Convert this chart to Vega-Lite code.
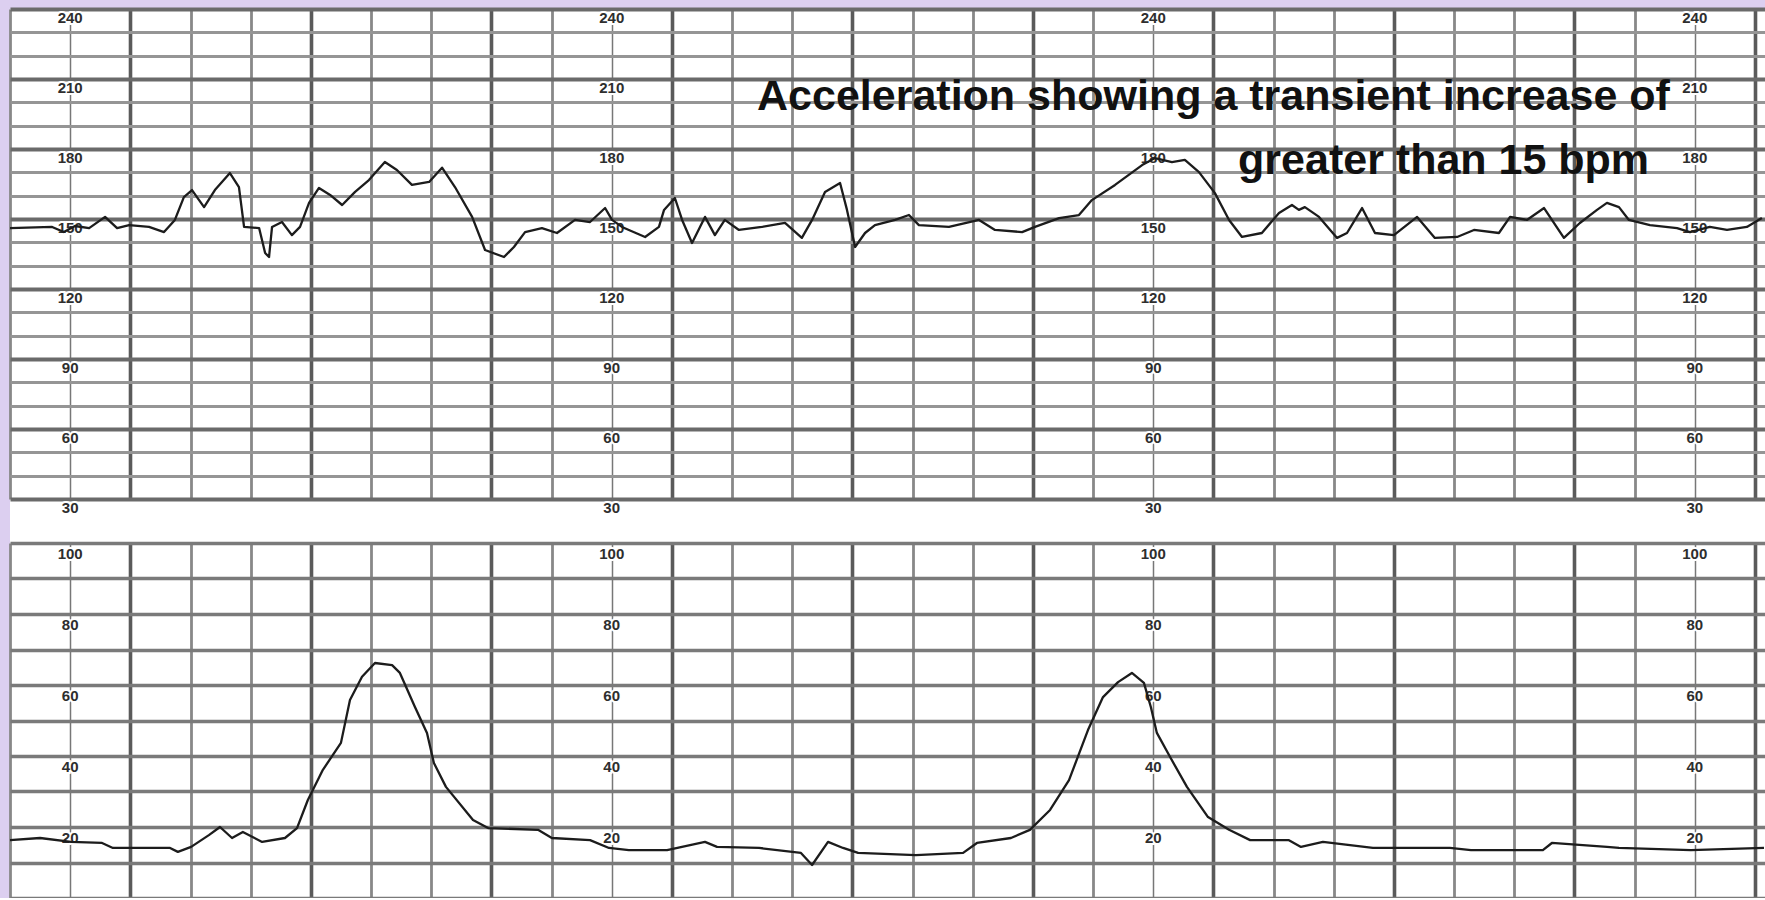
{
  "$schema": "https://vega.github.io/schema/vega-lite/v6.json",
  "background": "#dccff0",
  "padding": {"left": 8, "top": 9, "right": 0, "bottom": 0},
  "spacing": 0,
  "config": {
    "view": {"stroke": null, "fill": "white"},
    "concat": {"spacing": 0}
  },
  "datasets": {
    "fhr": [
      {"t":0,"v":146.1},{"t":14,"v":146.6},{"t":17.9,"v":144.4},{"t":21.6,"v":147.0},{"t":26.3,"v":146.1},{"t":31.6,"v":150.9},{"t":35.6,"v":146.1},{"t":39.6,"v":147.4},{"t":46.2,"v":146.6},{"t":51.2,"v":144.4},{"t":54.8,"v":149.6},{"t":57.8,"v":159.4},{"t":60.5,"v":162.4},{"t":64.5,"v":155.1},{"t":68.1,"v":162.4},{"t":73.1,"v":169.7},{"t":76.1,"v":163.7},{"t":77.8,"v":146.6},{"t":82.8,"v":146.1},{"t":84.8,"v":135.4},{"t":86.1,"v":133.7},{"t":87.1,"v":146.6},{"t":90.4,"v":148.7},{"t":93.7,"v":143.1},{"t":96.4,"v":146.6},{"t":99.4,"v":156.9},{"t":102.7,"v":163.3},{"t":106.4,"v":160.3},{"t":110.4,"v":156.0},{"t":114.7,"v":161.6},{"t":119.3,"v":166.7},{"t":124.6,"v":174.4},{"t":128.6,"v":171.0},{"t":133.6,"v":164.6},{"t":139.3,"v":165.9},{"t":143.6,"v":172.0},{"t":147.9,"v":163.7},{"t":153.6,"v":150.9},{"t":157.9,"v":136.7},{"t":164.2,"v":133.7},{"t":167.5,"v":138.0},{"t":171.2,"v":144.4},{"t":176.8,"v":146.1},{"t":181.8,"v":144.0},{"t":187.8,"v":149.6},{"t":192.8,"v":148.7},{"t":197.8,"v":154.7},{"t":200.1,"v":149.6},{"t":203.4,"v":146.6},{"t":211.1,"v":142.3},{"t":215.7,"v":146.6},{"t":217.4,"v":153.9},{"t":221.0,"v":159.0},{"t":223.4,"v":149.6},{"t":226.7,"v":139.7},{"t":231.0,"v":150.9},{"t":234.3,"v":143.1},{"t":237.6,"v":149.6},{"t":242.3,"v":145.3},{"t":249.9,"v":146.6},{"t":257.6,"v":148.3},{"t":263.2,"v":141.9},{"t":266.6,"v":149.6},{"t":270.9,"v":161.6},{"t":275.9,"v":165.4},{"t":278.2,"v":153.9},{"t":280.9,"v":138.0},{"t":284.2,"v":144.0},{"t":287.5,"v":147.4},{"t":294.2,"v":149.6},{"t":298.8,"v":151.7},{"t":302.1,"v":147.4},{"t":312.1,"v":146.6},{"t":322.1,"v":149.6},{"t":327.4,"v":145.3},{"t":336.4,"v":144.4},{"t":340.7,"v":146.6},{"t":348.7,"v":150.4},{"t":355.3,"v":151.7},{"t":359.6,"v":158.1},{"t":367.3,"v":164.6},{"t":376.3,"v":173.1},{"t":380.6,"v":176.1},{"t":386.2,"v":174.4},{"t":390.5,"v":175.3},{"t":395.2,"v":170.1},{"t":400.5,"v":161.1},{"t":405.2,"v":149.6},{"t":409.5,"v":142.3},{"t":416.1,"v":144.0},{"t":421.8,"v":152.6},{"t":426.1,"v":156.0},{"t":428.4,"v":153.9},{"t":430.4,"v":155.1},{"t":435.1,"v":150.9},{"t":441.1,"v":141.9},{"t":444.4,"v":144.0},{"t":449.4,"v":154.7},{"t":453.7,"v":144.0},{"t":460.0,"v":143.1},{"t":467.7,"v":150.9},{"t":473.6,"v":141.9},{"t":481.0,"v":142.3},{"t":486.6,"v":145.3},{"t":494.9,"v":144.0},{"t":498.6,"v":150.9},{"t":504.2,"v":149.6},{"t":509.9,"v":154.7},{"t":516.5,"v":141.9},{"t":521.8,"v":148.3},{"t":527.5,"v":153.9},{"t":530.8,"v":156.9},{"t":534.8,"v":155.1},{"t":538.1,"v":149.6},{"t":545.1,"v":147.4},{"t":554.1,"v":146.1},{"t":558.4,"v":144.4},{"t":565.0,"v":146.6},{"t":570.7,"v":145.3},{"t":577.3,"v":146.6},{"t":582.3,"v":150.4}
    ],
    "ua": [
      {"t":0,"v":16.3},{"t":10.0,"v":16.9},{"t":20.3,"v":15.8},{"t":30.6,"v":15.5},{"t":34.2,"v":14.1},{"t":53.2,"v":14.1},{"t":55.8,"v":13.0},{"t":60.2,"v":14.4},{"t":66.1,"v":17.7},{"t":69.8,"v":20.0},{"t":73.8,"v":16.9},{"t":77.4,"v":18.6},{"t":83.8,"v":15.8},{"t":91.4,"v":16.9},{"t":95.4,"v":19.7},{"t":99.0,"v":27.6},{"t":104.0,"v":36.1},{"t":110.0,"v":43.7},{"t":113.0,"v":55.8},{"t":117.0,"v":62.3},{"t":121.3,"v":66.2},{"t":127.0,"v":65.6},{"t":129.6,"v":63.4},{"t":134.6,"v":53.8},{"t":138.6,"v":46.5},{"t":140.9,"v":38.0},{"t":144.9,"v":31.3},{"t":153.9,"v":22.0},{"t":158.9,"v":19.7},{"t":175.5,"v":19.2},{"t":180.1,"v":16.9},{"t":192.8,"v":16.3},{"t":199.1,"v":14.1},{"t":205.7,"v":13.5},{"t":218.4,"v":13.5},{"t":231.0,"v":15.8},{"t":235.0,"v":14.4},{"t":249.0,"v":14.1},{"t":262.9,"v":12.7},{"t":266.6,"v":9.3},{"t":271.9,"v":15.8},{"t":276.9,"v":14.1},{"t":281.9,"v":12.7},{"t":301.1,"v":12.1},{"t":316.8,"v":12.7},{"t":321.4,"v":15.5},{"t":332.7,"v":16.9},{"t":339.0,"v":19.2},{"t":345.7,"v":24.8},{"t":352.0,"v":33.2},{"t":358.3,"v":47.3},{"t":363.3,"v":56.6},{"t":368.3,"v":60.8},{"t":372.9,"v":63.4},{"t":376.9,"v":60.6},{"t":379.2,"v":53.8},{"t":381.2,"v":46.5},{"t":385.6,"v":39.7},{"t":391.2,"v":31.3},{"t":398.2,"v":22.8},{"t":405.2,"v":19.2},{"t":412.2,"v":16.3},{"t":425.1,"v":16.3},{"t":429.1,"v":14.4},{"t":436.4,"v":15.8},{"t":453.0,"v":14.1},{"t":478.6,"v":14.1},{"t":485.6,"v":13.5},{"t":509.5,"v":13.5},{"t":512.5,"v":15.5},{"t":530.8,"v":14.4},{"t":534.8,"v":14.1},{"t":558.7,"v":13.5},{"t":583.0,"v":14.1}
    ],
    "fhrlabels": [
      {"t":20,"v":240},{"t":20,"v":210},{"t":20,"v":180},{"t":20,"v":150},{"t":20,"v":120},{"t":20,"v":90},{"t":20,"v":60},{"t":20,"v":30},
      {"t":200,"v":240},{"t":200,"v":210},{"t":200,"v":180},{"t":200,"v":150},{"t":200,"v":120},{"t":200,"v":90},{"t":200,"v":60},{"t":200,"v":30},
      {"t":380,"v":240},{"t":380,"v":180},{"t":380,"v":150},{"t":380,"v":120},{"t":380,"v":90},{"t":380,"v":60},{"t":380,"v":30},
      {"t":560,"v":240},{"t":560,"v":210},{"t":560,"v":180},{"t":560,"v":150},{"t":560,"v":120},{"t":560,"v":90},{"t":560,"v":60},{"t":560,"v":30}
    ],
    "ualabels": [
      {"t":20,"v":100},{"t":20,"v":80},{"t":20,"v":60},{"t":20,"v":40},{"t":20,"v":20},
      {"t":200,"v":100},{"t":200,"v":80},{"t":200,"v":60},{"t":200,"v":40},{"t":200,"v":20},
      {"t":380,"v":100},{"t":380,"v":80},{"t":380,"v":60},{"t":380,"v":40},{"t":380,"v":20},
      {"t":560,"v":100},{"t":560,"v":80},{"t":560,"v":60},{"t":560,"v":40},{"t":560,"v":20}
    ],
    "note": [
      {"t":400,"v":202.3,"text":"Acceleration showing a transient increase of"},
      {"t":476.5,"v":174.9,"text":"greater than 15 bpm"}
    ]
  },
  "vconcat": [
    {
      "width": 1757,
      "height": 534,
      "encoding": {
        "x": {
          "field": "t", "type": "quantitative",
          "scale": {"domain": [0, 584], "nice": false, "zero": false},
          "axis": {
            "orient": "top",
            "title": null, "labels": false, "ticks": false, "domain": false, "grid": true,
            "values": [0,20,40,60,80,100,120,140,160,180,200,220,240,260,280,300,320,340,360,380,400,420,440,460,480,500,520,540,560,580],
            "gridColor": {"condition": [{"test": "datum.value % 180 === 20", "value": "#777777"}, {"test": "datum.value % 60 === 40", "value": "#5a5a5a"}], "value": "#888888"},
            "gridWidth": {"condition": [{"test": "datum.value % 180 === 20", "value": 1.5}, {"test": "datum.value % 60 === 40", "value": 3.6}], "value": 2.8},
            "gridOpacity": 1
          }
        },
        "y": {
          "field": "v", "type": "quantitative",
          "scale": {"domain": [30, 240], "range": [490, 0], "nice": false, "zero": false},
          "axis": {
            "title": null, "labels": false, "ticks": false, "domain": false, "grid": true,
            "values": [30,40,50,60,70,80,90,100,110,120,130,140,150,160,170,180,190,200,210,220,230,240],
            "gridColor": {"condition": {"test": "datum.value % 30 === 0", "value": "#6a6a6a"}, "value": "#959595"},
            "gridWidth": {"condition": {"test": "datum.value % 30 === 0", "value": 4.2}, "value": 3.2},
            "gridOpacity": 1
          }
        }
      },
      "layer": [
        {
          "data": {"name": "fhrlabels"},
          "mark": {"type": "text", "font": "Liberation Sans", "fontWeight": "bold", "fontSize": 15, "dy": 9, "baseline": "middle", "align": "center", "fill": "white", "stroke": "white", "strokeWidth": 4},
          "encoding": {"text": {"field": "v", "type": "quantitative"}}
        },
        {
          "data": {"name": "fhrlabels"},
          "mark": {"type": "text", "font": "Liberation Sans", "fontWeight": "bold", "fontSize": 15, "dy": 9, "baseline": "middle", "align": "center", "color": "#2e2e2e"},
          "encoding": {"text": {"field": "v", "type": "quantitative"}}
        },
        {
          "data": {"name": "fhr"},
          "mark": {"type": "line", "color": "#1c1c1c", "strokeWidth": 2.3, "strokeJoin": "round"}
        },
        {
          "data": {"name": "note"},
          "mark": {"type": "text", "font": "Liberation Sans", "fontWeight": "bold", "fontSize": 43, "baseline": "middle", "align": "center", "color": "#111111"},
          "encoding": {"text": {"field": "text", "type": "nominal"}}
        }
      ]
    },
    {
      "width": 1757,
      "height": 355,
      "encoding": {
        "x": {
          "field": "t", "type": "quantitative",
          "scale": {"domain": [0, 584], "nice": false, "zero": false},
          "axis": {
            "title": null, "labels": false, "ticks": false, "domain": false, "grid": true,
            "values": [0,20,40,60,80,100,120,140,160,180,200,220,240,260,280,300,320,340,360,380,400,420,440,460,480,500,520,540,560,580],
            "gridColor": {"condition": [{"test": "datum.value % 180 === 20", "value": "#777777"}, {"test": "datum.value % 60 === 40", "value": "#5a5a5a"}], "value": "#888888"},
            "gridWidth": {"condition": [{"test": "datum.value % 180 === 20", "value": 1.5}, {"test": "datum.value % 60 === 40", "value": 3.6}], "value": 2.8},
            "gridOpacity": 1
          }
        },
        "y": {
          "field": "v", "type": "quantitative",
          "scale": {"domain": [0, 100], "nice": false, "zero": false},
          "axis": {
            "title": null, "labels": false, "ticks": false, "domain": false, "grid": true,
            "values": [0,10,20,30,40,50,60,70,80,90,100],
            "gridColor": "#7a7a7a",
            "gridWidth": 3.6,
            "gridOpacity": 1
          }
        }
      },
      "layer": [
        {
          "data": {"name": "ualabels"},
          "mark": {"type": "text", "font": "Liberation Sans", "fontWeight": "bold", "fontSize": 15, "dy": 11, "baseline": "middle", "align": "center", "fill": "white", "stroke": "white", "strokeWidth": 4},
          "encoding": {"text": {"field": "v", "type": "quantitative"}}
        },
        {
          "data": {"name": "ualabels"},
          "mark": {"type": "text", "font": "Liberation Sans", "fontWeight": "bold", "fontSize": 15, "dy": 11, "baseline": "middle", "align": "center", "color": "#2e2e2e"},
          "encoding": {"text": {"field": "v", "type": "quantitative"}}
        },
        {
          "data": {"name": "ua"},
          "mark": {"type": "line", "color": "#1c1c1c", "strokeWidth": 2.3, "strokeJoin": "round"}
        }
      ]
    }
  ]
}
